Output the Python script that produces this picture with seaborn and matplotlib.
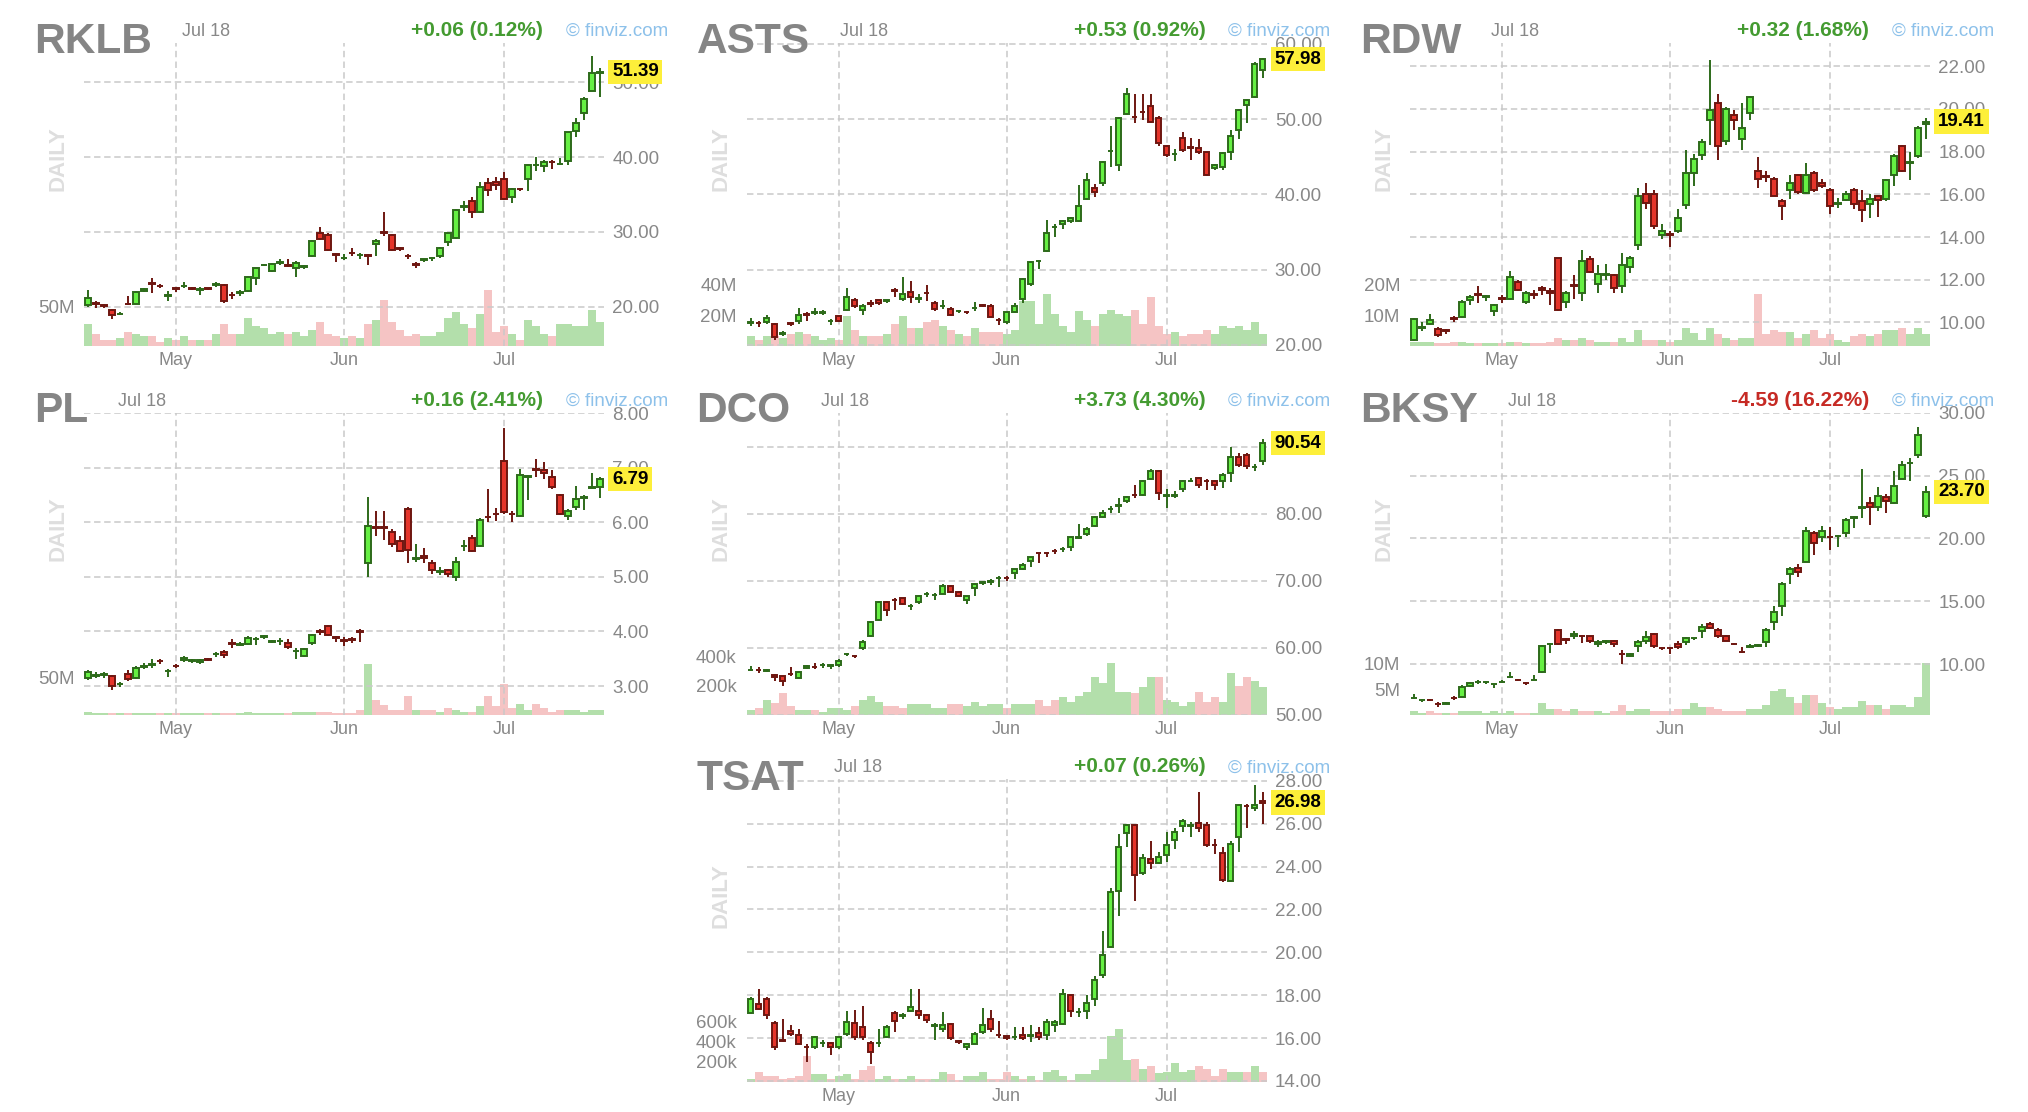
import numpy as np
import pandas as pd
import matplotlib
matplotlib.use("Agg")
import matplotlib.pyplot as plt
import seaborn as sns

sns.set_theme(style="white")
plt.rcParams["font.family"] = ["Liberation Sans", "DejaVu Sans"]

# trading days shown (Apr 15 - Jul 18, 2025)
holidays = pd.to_datetime(["2025-04-18", "2025-05-26", "2025-06-19", "2025-07-04"])
days = pd.bdate_range("2025-04-15", "2025-07-18")
days = days[~days.isin(holidays)]
idx = np.arange(len(days))
month_names = ["May", "Jun", "Jul"]
month_pos = [idx[days.month == m][0] for m in (5, 6, 7)]

# ---------------- RKLB ----------------
rklb_change = "+0.06 (0.12%)"
rklb_open = [20.2, 20.45, 20.2, 19.55, 18.95, 20.35, 20.4, 22.1, 23.2, 22.8,
             21.4, 22.5, 22.7, 22.5, 22.2, 22.45, 22.9, 22.9, 21.6, 21.8,
             22.1, 23.8, 25.5, 24.7, 25.8, 25.5, 25.1, 25.35, 26.7, 29.8,
             29.6, 27.0, 26.45, 27.2, 26.85, 26.9, 28.3, 30.0, 29.6, 27.8,
             26.8, 25.7, 26.25, 26.45, 26.7, 28.7, 29.2, 33.35, 34.1, 32.6,
             36.5, 36.6, 37.1, 34.7, 35.75, 37.1, 38.95, 38.8, 39.35, 39.05,
             39.5, 43.5, 45.9, 48.9, 51.3]
rklb_high = [22.2, 20.7, 20.4, 19.7, 19.3, 21.4, 22.1, 22.5, 23.8, 23.0,
             22.1, 22.6, 23.3, 22.6, 22.6, 22.5, 23.3, 23.0, 21.9, 22.2,
             24.1, 25.2, 25.7, 25.8, 26.3, 26.4, 26.1, 25.6, 28.9, 30.7,
             29.8, 27.1, 27.0, 27.8, 27.2, 27.0, 29.0, 32.6, 29.7, 28.0,
             27.0, 26.0, 26.4, 26.6, 27.9, 30.0, 33.0, 34.1, 34.6, 36.6,
             37.2, 37.3, 38.0, 35.8, 35.9, 39.1, 40.0, 39.6, 39.6, 39.9,
             43.4, 45.2, 48.0, 53.5, 51.9]
rklb_low = [19.9, 19.8, 19.8, 18.3, 18.8, 20.2, 20.3, 21.9, 21.8, 22.5,
            20.8, 21.9, 22.5, 22.2, 21.6, 22.2, 22.6, 20.5, 21.0, 21.4,
            22.0, 22.9, 25.4, 24.6, 25.5, 25.3, 23.9, 25.0, 26.6, 28.9,
            27.4, 26.0, 26.2, 26.8, 26.4, 25.6, 26.7, 29.4, 27.4, 27.4,
            26.4, 25.2, 25.9, 26.1, 26.5, 28.1, 29.0, 32.8, 31.8, 32.5,
            34.8, 35.6, 34.2, 33.8, 35.5, 35.4, 38.2, 38.0, 38.4, 39.0,
            38.9, 42.7, 44.9, 48.8, 48.0]
rklb_close = [21.1, 20.35, 20.1, 18.9, 19.0, 20.3, 21.9, 22.3, 23.0, 22.7,
              21.5, 22.4, 22.8, 22.4, 22.3, 22.4, 23.0, 20.75, 21.5, 21.9,
              24.0, 25.1, 25.6, 25.7, 25.9, 25.4, 25.8, 25.4, 28.8, 29.0,
              27.5, 26.9, 26.5, 27.1, 26.9, 26.8, 28.8, 29.9, 27.6, 27.7,
              26.7, 25.6, 26.3, 26.5, 27.8, 29.9, 32.9, 33.4, 32.6, 36.0,
              35.6, 36.2, 34.4, 35.7, 35.7, 39.0, 39.0, 39.4, 39.3, 39.1,
              43.3, 44.6, 47.8, 51.3, 51.39]
rklb_vol = [27.8, 15.0, 7.3, 7.3, 9.8, 17.5, 15.0, 12.4, 12.4, 4.7,
            9.8, 7.3, 12.4, 7.3, 7.3, 7.3, 15.0, 27.8, 15.0, 15.0,
            35.4, 25.2, 22.6, 15.0, 17.5, 15.0, 17.5, 12.4, 20.1, 30.3,
            15.0, 12.4, 9.8, 12.4, 9.8, 27.8, 32.9, 58.5, 30.3, 20.1,
            12.4, 15.0, 12.4, 12.4, 17.5, 35.4, 43.1, 27.8, 22.6, 40.6,
            71.3, 17.5, 25.2, 15.0, 7.3, 32.9, 25.2, 15.0, 12.4, 27.8,
            27.8, 25.2, 25.2, 45.7, 30.3]
rklb_yticks = [20, 30, 40, 50]
rklb_vticks = [50]
rklb_vlabels = ["50M"]

# ---------------- ASTS ----------------
asts_change = "+0.53 (0.92%)"
asts_open = [22.95, 22.95, 23.0, 22.8, 21.5, 22.85, 23.2, 24.05, 24.25, 24.25,
             23.15, 23.8, 24.6, 25.9, 24.6, 25.5, 25.9, 25.85, 27.25, 26.1,
             27.0, 26.15, 26.95, 25.6, 25.15, 24.8, 24.45, 24.35, 24.85, 25.25,
             25.2, 23.35, 23.1, 24.4, 26.1, 28.1, 31.15, 32.5, 35.65, 36.0,
             36.5, 36.5, 39.4, 40.8, 41.5, 45.75, 43.9, 50.7, 50.35, 50.95,
             51.7, 50.2, 46.4, 45.35, 47.5, 46.25, 46.2, 45.6, 43.5, 43.7,
             45.6, 48.5, 51.9, 52.9, 56.5]
asts_high = [23.5, 23.2, 23.9, 22.9, 21.9, 23.0, 24.9, 24.3, 24.9, 24.6,
             23.4, 23.9, 27.5, 26.2, 25.4, 25.9, 26.0, 26.0, 27.6, 29.0,
             28.5, 26.8, 27.9, 25.8, 25.9, 25.0, 24.6, 24.5, 25.7, 25.4,
             25.4, 23.5, 24.4, 25.6, 28.9, 31.1, 31.3, 36.6, 36.0, 36.6,
             37.0, 41.2, 42.8, 41.4, 44.5, 49.1, 50.3, 54.2, 53.3, 53.3,
             53.3, 50.4, 46.6, 46.0, 48.3, 47.5, 47.4, 45.7, 44.0, 45.7,
             48.5, 51.4, 52.7, 57.6, 58.2]
asts_low = [22.5, 22.4, 22.8, 20.6, 21.2, 22.5, 22.8, 23.2, 23.9, 24.0,
            22.6, 23.1, 24.5, 24.9, 24.0, 25.0, 25.3, 25.6, 26.4, 25.8,
            25.6, 25.5, 25.8, 24.5, 24.7, 23.8, 24.2, 24.1, 24.5, 25.0,
            23.5, 22.6, 22.8, 24.2, 25.6, 27.8, 30.1, 32.4, 34.4, 35.4,
            36.2, 36.3, 39.3, 39.6, 41.1, 43.6, 43.1, 50.6, 49.5, 49.9,
            49.5, 46.5, 45.0, 44.5, 45.6, 44.6, 45.4, 42.5, 43.2, 43.3,
            44.6, 47.4, 49.5, 52.8, 55.5]
asts_close = [23.0, 22.9, 23.5, 21.1, 21.55, 22.8, 24.0, 24.0, 24.3, 24.3,
              23.2, 23.2, 26.4, 25.1, 25.2, 25.45, 25.5, 25.9, 27.2, 26.7,
              26.3, 26.2, 26.9, 24.7, 25.2, 24.0, 24.5, 24.3, 24.9, 25.2,
              23.7, 23.3, 24.3, 25.1, 28.7, 31.0, 31.2, 34.9, 35.7, 36.5,
              36.9, 38.4, 41.9, 40.3, 44.3, 45.8, 50.2, 53.3, 50.3, 50.9,
              49.6, 46.9, 45.3, 45.4, 45.9, 46.2, 45.6, 42.6, 43.9, 45.5,
              47.7, 51.2, 52.6, 57.3, 57.98]
asts_vol = [6.4, 3.7, 6.4, 6.4, 5.1, 7.7, 9.0, 7.7, 6.4, 3.7,
            5.1, 3.7, 19.6, 10.3, 6.4, 6.4, 6.4, 7.7, 14.3, 19.6,
            11.4, 11.7, 15.6, 16.9, 13.0, 10.3, 7.7, 6.4, 11.7, 9.0,
            9.0, 9.0, 7.7, 10.3, 29.0, 29.0, 14.3, 34.1, 20.9, 13.0,
            9.0, 22.4, 16.9, 13.0, 20.9, 23.5, 20.9, 19.6, 23.5, 14.3,
            31.7, 13.0, 7.7, 9.0, 6.4, 7.7, 7.7, 10.3, 7.7, 13.0,
            11.7, 13.0, 10.3, 15.6, 7.7]
asts_yticks = [20, 30, 40, 50, 60]
asts_vticks = [20, 40]
asts_vlabels = ["20M", "40M"]

# ---------------- RDW ----------------
rdw_change = "+0.32 (1.68%)"
rdw_open = [9.2, 9.75, 9.95, 9.7, 9.65, 10.2, 10.25, 11.05, 11.35, 11.2,
            10.55, 11.15, 11.1, 11.9, 10.95, 11.35, 11.6, 11.45, 13.0, 10.95,
            11.75, 11.4, 12.95, 11.8, 12.2, 12.2, 11.7, 12.6, 13.65, 16.0,
            16.0, 14.1, 14.15, 14.3, 15.5, 17.0, 17.85, 19.5, 20.3, 18.5,
            19.7, 18.6, 19.8, 17.1, 16.85, 16.7, 15.7, 16.2, 16.9, 16.05,
            17.0, 16.55, 16.2, 15.55, 15.75, 16.2, 15.7, 15.55, 15.9, 15.8,
            16.9, 18.25, 17.45, 17.8, 19.3]
rdw_high = [10.2, 10.0, 10.4, 9.8, 9.7, 10.3, 11.05, 11.3, 11.7, 11.3,
            10.85, 11.3, 12.4, 12.0, 11.45, 11.5, 11.7, 11.6, 13.0, 11.45,
            12.2, 13.4, 13.1, 12.7, 12.75, 12.25, 13.25, 13.1, 16.3, 16.55,
            16.2, 14.6, 14.3, 15.3, 18.1, 17.9, 18.6, 22.3, 20.7, 20.1,
            19.95, 20.3, 20.6, 17.75, 17.1, 16.8, 15.8, 16.9, 16.95, 17.45,
            17.1, 16.7, 16.3, 15.85, 16.15, 16.3, 16.2, 16.0, 15.95, 16.7,
            17.9, 18.3, 18.0, 19.2, 19.6]
rdw_low = [9.15, 9.6, 9.9, 9.3, 9.45, 10.0, 10.2, 10.8, 10.9, 11.0,
           10.3, 10.9, 11.05, 11.45, 10.85, 11.1, 11.3, 10.8, 10.55, 10.7,
           11.1, 11.0, 12.3, 11.4, 12.0, 11.4, 11.4, 12.3, 13.4, 15.3,
           14.4, 13.9, 13.55, 14.2, 15.3, 16.4, 17.6, 18.3, 17.6, 18.3,
           19.0, 18.1, 19.5, 16.3, 16.6, 15.9, 14.8, 15.8, 16.0, 16.0,
           16.1, 16.3, 15.1, 15.35, 15.7, 15.3, 14.7, 14.9, 14.95, 15.7,
           16.4, 17.05, 16.65, 17.7, 18.6]
rdw_close = [10.15, 9.8, 10.1, 9.4, 9.6, 10.15, 10.95, 11.2, 11.3, 11.25,
             10.8, 11.1, 12.15, 11.5, 11.4, 11.3, 11.5, 11.4, 10.6, 11.4,
             11.7, 12.9, 12.35, 12.25, 12.25, 11.6, 12.7, 13.0, 15.9, 15.6,
             14.5, 14.3, 14.1, 14.9, 17.0, 17.65, 18.45, 19.95, 18.25, 20.0,
             19.5, 19.1, 20.55, 16.7, 16.8, 15.9, 15.45, 16.55, 16.1, 16.9,
             16.2, 16.4, 15.45, 15.6, 16.0, 15.55, 15.25, 15.8, 15.75, 16.65,
             17.8, 17.1, 17.5, 19.1, 19.41]
rdw_vol = [1.3, 1.3, 1.3, 0.8, 0.8, 1.3, 1.3, 0.8, 0.8, 0.8,
           0.8, 0.8, 1.3, 1.3, 0.8, 0.8, 0.8, 1.3, 2.4, 1.9,
           1.9, 2.4, 1.9, 1.3, 1.3, 1.3, 2.4, 1.3, 5.2, 1.9,
           1.9, 1.9, 1.3, 1.9, 5.7, 4.1, 1.9, 5.7, 3.9, 2.4,
           1.9, 2.4, 2.4, 17.1, 3.9, 5.2, 4.6, 4.6, 2.4, 3.9,
           5.2, 2.4, 3.9, 1.9, 1.3, 3.2, 3.9, 3.2, 3.9, 5.2,
           5.2, 5.7, 3.9, 5.7, 3.9]
rdw_yticks = [10, 12, 14, 16, 18, 20, 22]
rdw_vticks = [10, 20]
rdw_vlabels = ["10M", "20M"]

# ---------------- PL ----------------
pl_change = "+0.16 (2.41%)"
pl_open = [3.15, 3.19, 3.21, 3.18, 3.03, 3.22, 3.15, 3.35, 3.39, 3.46,
           3.27, 3.37, 3.47, 3.46, 3.44, 3.49, 3.58, 3.62, 3.78, 3.76,
           3.77, 3.86, 3.9, 3.81, 3.82, 3.79, 3.64, 3.55, 3.79, 4.0,
           4.1, 3.89, 3.84, 3.86, 4.0, 5.25, 5.91, 5.91, 5.83, 5.65,
           6.25, 5.33, 5.39, 5.25, 5.09, 5.12, 4.99, 5.56, 5.72, 5.57,
           6.1, 6.16, 7.12, 6.16, 6.12, 6.83, 6.97, 6.96, 6.83, 6.49,
           6.12, 6.28, 6.45, 6.63, 6.64]
pl_high = [3.3, 3.25, 3.26, 3.2, 3.08, 3.3, 3.36, 3.42, 3.5, 3.5,
           3.31, 3.4, 3.55, 3.5, 3.5, 3.51, 3.62, 3.66, 3.86, 3.8,
           3.91, 3.9, 3.94, 3.85, 3.88, 3.87, 3.7, 3.7, 3.96, 4.05,
           4.12, 3.92, 3.9, 3.9, 4.05, 6.46, 6.2, 6.2, 5.88, 5.75,
           6.28, 5.6, 5.52, 5.3, 5.18, 5.14, 5.37, 5.67, 5.76, 6.08,
           6.6, 6.27, 7.72, 6.2, 6.97, 6.87, 7.15, 7.1, 6.95, 6.52,
           6.25, 6.66, 6.5, 6.9, 6.82]
pl_low = [3.12, 3.15, 3.15, 2.92, 2.98, 3.1, 3.13, 3.32, 3.33, 3.4,
          3.17, 3.33, 3.44, 3.43, 3.41, 3.45, 3.53, 3.52, 3.7, 3.73,
          3.75, 3.75, 3.87, 3.78, 3.76, 3.68, 3.5, 3.54, 3.76, 3.93,
          3.92, 3.8, 3.74, 3.78, 3.8, 5.0, 5.75, 5.68, 5.55, 5.45,
          5.25, 5.28, 5.25, 5.05, 5.03, 4.99, 4.93, 5.48, 5.45, 5.54,
          6.0, 6.03, 6.15, 6.0, 6.1, 6.4, 6.82, 6.8, 6.6, 6.14,
          6.05, 6.22, 6.23, 6.62, 6.45]
pl_close = [3.26, 3.2, 3.22, 3.0, 3.04, 3.13, 3.33, 3.36, 3.4, 3.45,
            3.28, 3.36, 3.51, 3.47, 3.48, 3.48, 3.59, 3.56, 3.77, 3.77,
            3.88, 3.87, 3.91, 3.82, 3.83, 3.71, 3.65, 3.67, 3.94, 3.99,
            3.94, 3.88, 3.83, 3.85, 3.99, 5.94, 5.9, 5.9, 5.61, 5.47,
            5.49, 5.34, 5.34, 5.12, 5.1, 5.05, 5.28, 5.57, 5.47, 6.04,
            6.09, 6.15, 6.18, 6.15, 6.86, 6.84, 6.96, 6.9, 6.64, 6.15,
            6.2, 6.43, 6.46, 6.64, 6.79]
pl_vol = [4.5, 2.2, 2.2, 2.2, 2.2, 2.2, 2.2, 2.2, 2.2, 2.2,
          2.2, 2.2, 2.2, 2.2, 2.2, 2.2, 2.2, 2.2, 2.2, 2.2,
          4.5, 2.2, 2.2, 2.2, 2.2, 2.2, 4.5, 4.5, 4.5, 4.5,
          4.5, 2.2, 2.2, 2.2, 6.7, 68.2, 20.1, 13.4, 6.7, 6.7,
          25.9, 6.7, 6.7, 6.7, 4.5, 9.8, 6.7, 4.5, 4.5, 12.5,
          25.9, 12.5, 41.5, 9.8, 15.2, 6.7, 15.2, 8.9, 4.5, 6.7,
          6.7, 6.7, 4.5, 6.7, 6.7]
pl_yticks = [3, 4, 5, 6, 7, 8]
pl_vticks = [50]
pl_vlabels = ["50M"]

# ---------------- DCO ----------------
dco_change = "+3.73 (4.30%)"
dco_open = [56.7, 56.7, 56.6, 56.0, 55.75, 56.15, 55.5, 57.0, 57.15, 57.45,
            57.35, 57.4, 59.05, 58.8, 60.0, 61.75, 64.1, 66.9, 67.15, 67.4,
            66.2, 66.9, 68.05, 67.85, 68.1, 69.25, 68.4, 67.1, 68.9, 69.7,
            69.85, 70.35, 70.45, 71.1, 71.75, 72.9, 74.15, 74.15, 74.45, 74.7,
            75.0, 76.45, 77.0, 78.1, 79.5, 80.7, 81.2, 81.9, 82.8, 82.75,
            85.25, 86.4, 82.7, 82.7, 83.75, 84.85, 85.4, 84.95, 84.9, 84.9,
            86.1, 88.4, 88.75, 86.95, 87.9]
dco_high = [57.3, 57.2, 56.9, 56.1, 55.8, 57.2, 56.6, 57.4, 57.7, 57.8,
            57.5, 58.4, 59.3, 59.0, 61.2, 64.0, 67.0, 67.0, 67.4, 67.5,
            66.6, 67.9, 68.4, 68.2, 69.5, 69.3, 68.5, 67.8, 69.7, 70.0,
            70.3, 70.7, 70.7, 71.8, 72.6, 73.5, 74.2, 74.3, 74.7, 75.0,
            76.6, 78.4, 78.0, 79.6, 80.5, 81.2, 82.3, 82.6, 84.3, 85.0,
            86.6, 86.5, 83.7, 83.4, 85.0, 85.4, 85.5, 85.2, 85.0, 86.1,
            90.0, 89.0, 89.0, 87.4, 91.2]
dco_low = [56.5, 56.3, 56.4, 55.0, 54.3, 55.8, 55.4, 56.9, 56.9, 57.0,
           56.8, 57.2, 58.8, 58.5, 59.7, 61.6, 64.0, 64.7, 65.6, 66.4,
           65.6, 66.6, 67.6, 67.2, 68.0, 68.2, 67.6, 66.5, 67.7, 69.4,
           69.4, 69.0, 69.9, 70.3, 71.6, 72.1, 72.7, 73.6, 74.0, 74.3,
           74.4, 76.3, 76.7, 78.0, 79.3, 80.1, 80.1, 81.6, 82.3, 82.6,
           85.1, 82.1, 80.9, 82.3, 83.3, 84.7, 83.8, 83.5, 83.6, 83.9,
           84.8, 87.0, 86.6, 86.4, 87.3]
dco_close = [56.75, 56.65, 56.65, 55.6, 55.1, 56.1, 56.4, 57.25, 57.1, 57.5,
             57.4, 58.1, 59.1, 58.75, 60.9, 63.9, 66.9, 65.6, 67.1, 66.6,
             66.25, 67.75, 68.1, 67.9, 69.25, 68.4, 67.75, 67.75, 69.5, 69.75,
             69.9, 70.4, 70.4, 71.75, 72.4, 73.5, 74.1, 74.1, 74.4, 74.75,
             76.5, 76.5, 77.75, 79.5, 80.1, 80.75, 81.25, 82.5, 82.75, 84.9,
             86.4, 83.1, 82.75, 82.75, 84.9, 84.9, 84.25, 84.9, 84.25, 85.75,
             88.4, 87.25, 87.1, 87.0, 90.54]
dco_vol = [35, 51, 104, 80, 150, 64, 35, 35, 35, 23,
           51, 51, 35, 64, 104, 133, 92, 64, 64, 51,
           78, 78, 78, 51, 51, 78, 78, 64, 92, 64,
           78, 78, 51, 78, 78, 78, 106, 64, 106, 120,
           92, 133, 161, 258, 218, 354, 161, 161, 150, 189,
           258, 258, 104, 92, 64, 92, 161, 92, 120, 92,
           288, 202, 258, 230, 189]
dco_yticks = [50, 60, 70, 80, 90]
dco_vticks = [200, 400]
dco_vlabels = ["200k", "400k"]

# ---------------- BKSY ----------------
bksy_change = "-4.59 (16.22%)"
bksy_open = [7.3, 7.13, 7.17, 6.82, 6.86, 7.3, 7.41, 8.29, 8.54, 8.54,
             8.38, 8.59, 8.98, 8.77, 8.5, 8.73, 9.36, 11.58, 12.75, 11.97,
             12.21, 12.23, 12.21, 11.6, 11.79, 11.81, 10.82, 10.61, 11.41, 11.87,
             12.4, 11.3, 11.3, 11.6, 11.76, 12.06, 12.67, 13.2, 12.75, 12.21,
             11.62, 10.98, 11.39, 11.47, 11.76, 13.36, 14.61, 17.2, 17.68, 18.16,
             20.4, 20.13, 20.15, 20.19, 20.4, 21.66, 22.46, 22.8, 22.48, 23.28,
             22.8, 24.75, 25.98, 26.61, 21.81]
bksy_high = [7.6, 7.25, 7.25, 6.95, 6.95, 7.45, 8.3, 8.55, 8.75, 8.65,
             8.45, 8.7, 9.35, 8.85, 8.55, 9.1, 11.5, 11.7, 12.8, 12.1,
             12.6, 12.35, 12.25, 11.9, 11.95, 11.9, 11.1, 10.9, 11.9, 12.6,
             12.5, 11.35, 11.35, 11.8, 12.15, 12.1, 13.2, 13.35, 12.9, 12.3,
             11.7, 11.4, 11.6, 11.6, 12.9, 14.6, 16.5, 17.7, 18.0, 20.9,
             20.6, 21.0, 20.9, 20.3, 21.6, 21.75, 25.5, 23.3, 24.1, 23.5,
             25.4, 26.2, 26.4, 28.9, 24.2]
bksy_low = [7.2, 7.0, 7.05, 6.6, 6.8, 7.15, 7.35, 8.2, 8.4, 8.45,
            8.1, 8.5, 8.9, 8.65, 8.3, 8.7, 9.3, 10.9, 11.5, 11.6,
            12.0, 11.7, 11.7, 11.35, 11.6, 11.4, 10.0, 10.55, 11.0, 11.6,
            11.3, 11.1, 10.8, 11.2, 11.5, 11.9, 12.1, 12.8, 12.1, 11.8,
            11.5, 10.9, 11.3, 11.4, 11.4, 12.7, 13.8, 16.4, 16.9, 18.1,
            18.7, 19.7, 19.1, 19.3, 20.1, 20.8, 21.6, 21.1, 22.2, 22.0,
            22.7, 24.7, 24.6, 26.4, 21.6]
bksy_close = [7.33, 7.15, 7.15, 6.8, 6.88, 7.28, 8.21, 8.48, 8.56, 8.56,
              8.4, 8.61, 9.0, 8.75, 8.48, 8.75, 11.41, 11.6, 11.6, 11.95,
              12.4, 12.21, 11.87, 11.76, 11.81, 11.6, 10.8, 10.8, 11.76, 12.13,
              11.41, 11.28, 11.28, 11.33, 12.08, 12.08, 12.93, 12.88, 12.21, 11.87,
              11.6, 10.96, 11.41, 11.49, 12.75, 14.16, 16.4, 17.55, 17.36, 20.56,
              19.6, 20.56, 20.13, 20.21, 21.47, 21.68, 22.48, 22.48, 23.41, 23.01,
              24.21, 25.81, 26.0, 28.21, 23.7]
bksy_vol = [0.8, 0.45, 0.8, 0.45, 0.45, 0.45, 0.8, 0.8, 0.8, 0.45,
            0.8, 0.45, 0.8, 0.45, 0.45, 0.45, 2.4, 1.1, 1.1, 0.8,
            1.1, 0.8, 0.8, 0.8, 0.45, 0.8, 2.0, 0.8, 1.1, 1.1,
            0.8, 0.8, 0.8, 1.1, 1.1, 2.3, 1.6, 1.6, 1.1, 0.8,
            0.8, 0.8, 1.1, 1.1, 2.0, 4.6, 5.0, 3.5, 2.3, 3.9,
            3.9, 2.3, 1.6, 1.1, 1.6, 1.6, 2.7, 2.0, 2.0, 1.1,
            2.0, 2.0, 1.6, 3.5, 10.0]
bksy_yticks = [10, 15, 20, 25, 30]
bksy_vticks = [5, 10]
bksy_vlabels = ["5M", "10M"]

# ---------------- TSAT ----------------
tsat_change = "+0.07 (0.26%)"
tsat_open = [17.17, 17.61, 17.84, 16.71, 15.9, 16.33, 16.13, 15.58, 15.59, 15.75,
             15.77, 15.59, 16.21, 16.71, 16.52, 15.77, 15.75, 16.05, 17.17, 17.04,
             17.27, 17.27, 17.06, 16.58, 16.4, 16.64, 15.84, 15.56, 15.74, 16.29,
             16.91, 16.15, 16.08, 16.03, 16.13, 16.11, 16.24, 16.13, 16.6, 16.67,
             17.99, 17.2, 17.27, 17.84, 18.93, 20.25, 22.86, 25.57, 25.93, 23.7,
             24.37, 24.17, 24.53, 25.26, 25.88, 25.91, 26.04, 25.93, 25.02, 24.61,
             23.33, 25.38, 26.83, 26.71, 27.06]
tsat_high = [17.9, 18.3, 17.9, 16.8, 16.9, 16.6, 16.4, 15.7, 16.1, 15.9,
             15.8, 16.1, 17.25, 17.3, 17.5, 15.85, 16.4, 16.6, 17.25, 17.15,
             18.3, 18.3, 17.1, 16.7, 17.2, 16.7, 15.9, 15.75, 16.3, 17.4,
             17.3, 16.8, 16.1, 16.5, 16.5, 16.6, 16.5, 16.9, 16.85, 18.3,
             18.0, 17.4, 18.0, 18.9, 21.0, 23.0, 25.5, 26.0, 25.95, 24.6,
             25.2, 24.7, 25.6, 25.8, 26.2, 26.1, 27.5, 26.1, 25.3, 24.9,
             25.2, 26.9, 26.9, 27.8, 27.5]
tsat_low = [17.1, 17.3, 16.9, 15.45, 15.8, 16.1, 15.7, 14.9, 15.5, 15.6,
            15.2, 15.5, 16.1, 15.9, 15.9, 14.8, 15.6, 16.0, 16.3, 16.9,
            17.2, 16.9, 16.7, 15.9, 16.3, 15.9, 15.7, 15.45, 15.7, 16.2,
            16.3, 16.0, 15.9, 15.9, 15.9, 15.8, 15.9, 15.9, 16.3, 16.6,
            17.0, 17.0, 16.9, 17.5, 18.8, 20.2, 21.7, 24.9, 22.4, 23.6,
            23.9, 24.1, 24.2, 24.8, 25.6, 25.4, 25.6, 24.9, 24.6, 23.3,
            23.3, 24.7, 25.8, 26.6, 26.0]
tsat_close = [17.84, 17.37, 17.06, 15.59, 15.87, 16.18, 15.74, 15.56, 16.05, 15.77,
              15.59, 16.05, 16.75, 16.05, 16.05, 15.35, 15.77, 16.52, 16.8, 17.06,
              17.45, 17.06, 16.86, 16.6, 16.6, 15.98, 15.82, 15.71, 16.21, 16.6,
              16.4, 16.13, 15.98, 16.05, 16.02, 16.13, 16.05, 16.75, 16.75, 18.07,
              17.27, 17.22, 17.64, 18.73, 19.86, 22.82, 24.89, 25.93, 23.6, 24.42,
              24.17, 24.45, 25.0, 25.62, 26.13, 25.93, 25.82, 25.0, 25.0, 23.39,
              25.07, 26.86, 26.81, 26.86, 26.98]
tsat_vol = [33, 100, 57, 57, 33, 43, 57, 257, 77, 77,
            33, 57, 77, 33, 117, 157, 33, 57, 33, 33,
            57, 33, 33, 33, 97, 77, 17, 57, 57, 97,
            33, 33, 97, 57, 33, 57, 17, 97, 117, 57,
            17, 77, 77, 117, 233, 456, 533, 216, 233, 133,
            157, 90, 100, 190, 100, 117, 157, 133, 57, 133,
            97, 97, 97, 157, 97]
tsat_yticks = [14, 16, 18, 20, 22, 24, 26, 28]
tsat_vticks = [200, 400, 600]
tsat_vlabels = ["200k", "400k", "600k"]

# ---------------- style ----------------
UP_FILL, UP_EDGE = "#66f043", "#2d6a1a"
DN_FILL, DN_EDGE = "#e5352b", "#6e1610"
VOL_UP, VOL_DN = "#b3dfab", "#f5c4c4"
GRID = "#c9c9c9"
GRAY = "#888888"
GREEN_TXT, RED_TXT = "#449b31", "#c62a24"
FINVIZ = "#8dc1ea"
HIGHLIGHT = "#fdef3a"

W, H = 2028, 1112
COL_LEFT = [84, 746.5, 1410]
ROW_TOP = [43, 412.5, 779.5]
PW, PH = 520, 302.5

fig = plt.figure(figsize=(W / 100, H / 100), dpi=100)
fig.patch.set_facecolor("white")
renderer = fig.canvas.get_renderer()


def fx(x):
    return x / W


def fy(y):
    return 1 - y / H


def draw_panel(name, o, h, l, c, v, change, row, col, ylim, yticks, vtop, vticks, vlabels):
    o, h, l, c, v = (np.asarray(a, dtype=float) for a in (o, h, l, c, v))
    left, top = COL_LEFT[col], ROW_TOP[row]
    ax = fig.add_axes([fx(left), fy(top + PH), PW / W, PH / H])
    up = c >= o

    # volume bars (bottom layer)
    vol = pd.DataFrame({"day": idx, "volume": v, "dir": np.where(up, "up", "down")})
    sns.barplot(data=vol, x="day", y="volume", hue="dir", hue_order=["up", "down"],
                palette={"up": VOL_UP, "down": VOL_DN}, native_scale=True, width=1.0,
                dodge=False, saturation=1, errorbar=None, legend=False, linewidth=0, ax=ax)
    ax.set_ylim(0, vtop)
    ax.set_xlabel("")
    ax.set_ylabel("")
    ax.set_xticks(month_pos, month_names)
    ax.set_yticks(vticks, vlabels)
    ax.tick_params(axis="both", length=0, labelcolor=GRAY)
    ax.tick_params(axis="y", pad=7, labelsize=13.5)
    ax.tick_params(axis="x", pad=4.5, labelsize=13)
    ax.grid(False)
    for s in ax.spines.values():
        s.set_visible(False)

    # price candles
    ax2 = ax.twinx()
    ax2.set_ylim(*ylim)
    ax2.set_yticks(yticks, [f"{t:.2f}" for t in yticks])
    ax2.tick_params(axis="y", length=0, pad=6, labelsize=13.5, labelcolor=GRAY)
    ax2.grid(False)
    for s in ax2.spines.values():
        s.set_visible(False)
    for t in yticks:
        ax2.axhline(t, color=GRID, lw=1.1, ls=(0, (4.2, 2.4)), zorder=0.5)
    for m in month_pos:
        ax2.axvline(m, color=GRID, lw=1.1, ls=(0, (4.2, 2.8)), zorder=0.5)

    edges = np.where(up, UP_EDGE, DN_EDGE)
    fills = np.where(up, UP_FILL, DN_FILL)
    ax2.vlines(idx, l, h, colors=edges, lw=1.4, zorder=2)
    ax2.bar(idx, np.abs(c - o), bottom=np.minimum(o, c), width=0.68,
            color=fills, edgecolor=edges, linewidth=1.4, zorder=3)
    ax2.set_xlim(-0.5, len(idx) - 0.5)

    # last price tag
    ax2.text(1 + 8 / PW, c[-1], f"{c[-1]:.2f}", transform=ax2.get_yaxis_transform(),
             ha="left", va="center", fontsize=13.5, fontweight="bold", color="black",
             bbox=dict(boxstyle="square,pad=0.2", fc=HIGHLIGHT, ec="none"),
             zorder=10, clip_on=False)

    # header texts
    tk = fig.text(fx(left - 50), fy(top + 10), name, fontsize=30.5, fontweight="bold",
                  color="#858585", ha="left", va="baseline")
    bb = tk.get_window_extent(renderer=renderer)
    fig.text(fx(bb.x1 + 30), fy(top - 7), "Jul 18", fontsize=13, color=GRAY,
             ha="left", va="baseline")
    fig.text(fx(left + PW - 61), fy(top - 7), change, fontsize=15, fontweight="bold",
             color=RED_TXT if change.startswith("-") else GREEN_TXT,
             ha="right", va="baseline")
    fig.text(fx(left + PW + 64), fy(top - 7), "\u00a9 finviz.com", fontsize=13.5,
             color=FINVIZ, ha="right", va="baseline")
    fig.text(fx(left - 26), fy(top + 116), "DAILY", rotation=90, fontsize=16,
             fontweight="bold", color="#dedede", ha="center", va="center")


panels = [
    ("RKLB", rklb_open, rklb_high, rklb_low, rklb_close, rklb_vol, rklb_change,
     0, 0, (14.78, 55.27), rklb_yticks, 388, rklb_vticks, rklb_vlabels),
    ("ASTS", asts_open, asts_high, asts_low, asts_close, asts_vol, asts_change,
     0, 1, (19.91, 60.13), asts_yticks, 199, asts_vticks, asts_vlabels),
    ("RDW", rdw_open, rdw_high, rdw_low, rdw_close, rdw_vol, rdw_change,
     0, 2, (8.92, 23.09), rdw_yticks, 99.7, rdw_vticks, rdw_vlabels),
    ("PL", pl_open, pl_high, pl_low, pl_close, pl_vol, pl_change,
     1, 0, (2.47, 8.01), pl_yticks, 402.7, pl_vticks, pl_vlabels),
    ("DCO", dco_open, dco_high, dco_low, dco_close, dco_vol, dco_change,
     1, 1, (49.98, 95.1), dco_yticks, 2074, dco_vticks, dco_vlabels),
    ("BKSY", bksy_open, bksy_high, bksy_low, bksy_close, bksy_vol, bksy_change,
     1, 2, (5.95, 30.02), bksy_yticks, 58.6, bksy_vticks, bksy_vlabels),
    ("TSAT", tsat_open, tsat_high, tsat_low, tsat_close, tsat_vol, tsat_change,
     2, 1, (13.95, 28.06), tsat_yticks, 3023, tsat_vticks, tsat_vlabels),
]

for p in panels:
    draw_panel(*p)

fig.savefig("out.png", dpi=100)
